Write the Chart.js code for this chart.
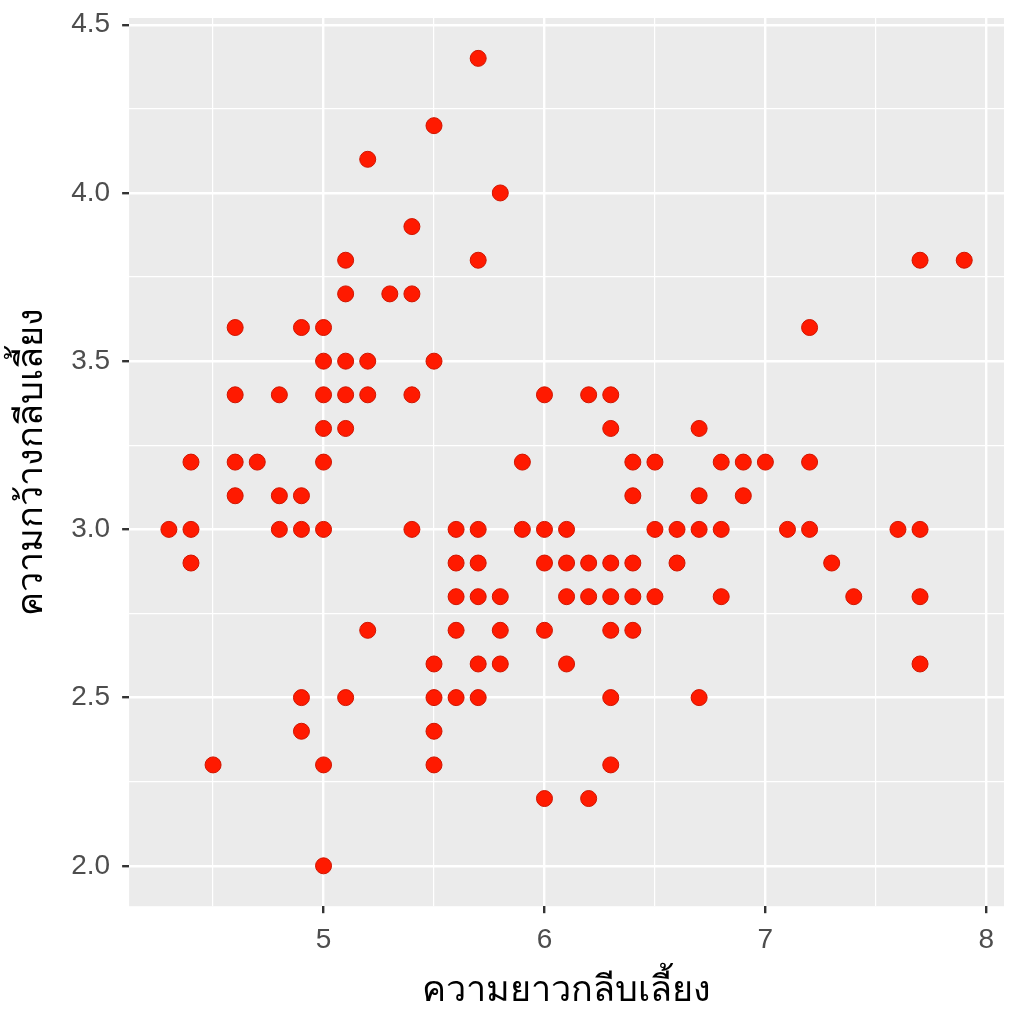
<!DOCTYPE html>
<html>
<head>
<meta charset="utf-8">
<script src="https://cdn.jsdelivr.net/npm/chart.js@4.4.0/dist/chart.umd.min.js"></script>
<style>
  html, body { margin: 0; padding: 0; background: #fff; }
  #wrap { width: 1024px; height: 1024px; }
</style>
</head>
<body>
<div id="wrap"><canvas id="chart" width="1024" height="1024"></canvas></div>
<script>
// sepal length / width pairs (one entry per visible dot)
const sepalLength = [
  5.7, 5.5, 5.2, 5.8, 5.4,
  5.1, 5.7, 7.7, 7.9,
  5.1, 5.3, 5.4,
  4.6, 4.9, 5.0, 7.2,
  5.0, 5.1, 5.2, 5.5,
  4.6, 4.8, 5.0, 5.1, 5.2, 5.4, 6.0, 6.2, 6.3,
  5.0, 5.1, 6.3, 6.7,
  4.4, 4.6, 4.7, 5.0, 5.9, 6.4, 6.5, 6.8, 6.9, 7.0, 7.2,
  4.6, 4.8, 4.9, 6.4, 6.7, 6.9,
  4.3, 4.4, 4.8, 4.9, 5.0, 5.4, 5.6, 5.7, 5.9, 6.0, 6.1, 6.5, 6.6, 6.7, 6.8, 7.1, 7.2, 7.6, 7.7,
  4.4, 5.6, 5.7, 6.0, 6.1, 6.2, 6.3, 6.4, 6.6, 7.3,
  5.6, 5.7, 5.8, 6.1, 6.2, 6.3, 6.4, 6.5, 6.8, 7.4, 7.7,
  5.2, 5.6, 5.8, 6.0, 6.3, 6.4,
  5.5, 5.7, 5.8, 6.1, 7.7,
  4.9, 5.1, 5.5, 5.6, 5.7, 6.3, 6.7,
  4.9, 5.5,
  4.5, 5.0, 5.5, 6.3,
  6.0, 6.2,
  5.0
];
const sepalWidth = [
  4.4, 4.2, 4.1, 4.0, 3.9,
  3.8, 3.8, 3.8, 3.8,
  3.7, 3.7, 3.7,
  3.6, 3.6, 3.6, 3.6,
  3.5, 3.5, 3.5, 3.5,
  3.4, 3.4, 3.4, 3.4, 3.4, 3.4, 3.4, 3.4, 3.4,
  3.3, 3.3, 3.3, 3.3,
  3.2, 3.2, 3.2, 3.2, 3.2, 3.2, 3.2, 3.2, 3.2, 3.2, 3.2,
  3.1, 3.1, 3.1, 3.1, 3.1, 3.1,
  3.0, 3.0, 3.0, 3.0, 3.0, 3.0, 3.0, 3.0, 3.0, 3.0, 3.0, 3.0, 3.0, 3.0, 3.0, 3.0, 3.0, 3.0, 3.0,
  2.9, 2.9, 2.9, 2.9, 2.9, 2.9, 2.9, 2.9, 2.9, 2.9,
  2.8, 2.8, 2.8, 2.8, 2.8, 2.8, 2.8, 2.8, 2.8, 2.8, 2.8,
  2.7, 2.7, 2.7, 2.7, 2.7, 2.7,
  2.6, 2.6, 2.6, 2.6, 2.6,
  2.5, 2.5, 2.5, 2.5, 2.5, 2.5, 2.5,
  2.4, 2.4,
  2.3, 2.3, 2.3, 2.3,
  2.2, 2.2,
  2.0
];

const xTicks = [4.5, 5, 5.5, 6, 6.5, 7, 7.5, 8];
const yTicks = [2.0, 2.25, 2.5, 2.75, 3.0, 3.25, 3.5, 3.75, 4.0, 4.25, 4.5];
const xTitle = 'ความยาวกลีบเลี้ยง';
const yTitle = 'ความกว้างกลีบเลี้ยง';

const points = sepalLength.map((x, i) => ({ x: x, y: sepalWidth[i] }));

const isMajorX = v => Math.abs(v - Math.round(v)) < 1e-6;
const isMajorY = v => Math.abs(v * 2 - Math.round(v * 2)) < 1e-6;

// grey ggplot panel behind the grid
const panelBg = {
  id: 'panelBg',
  beforeDraw(chart) {
    const a = chart.chartArea;
    const ctx = chart.ctx;
    ctx.save();
    ctx.fillStyle = '#EBEBEB';
    ctx.fillRect(a.left, a.top, a.right - a.left, a.bottom - a.top);
    ctx.restore();
  }
};

const tickFont = { family: 'Liberation Sans, Arial, sans-serif', size: 28 };
const titleFont = { family: 'Noto Sans, sans-serif', size: 36 };

new Chart(document.getElementById('chart').getContext('2d'), {
  type: 'scatter',
  data: {
    datasets: [{
      data: points,
      backgroundColor: '#FF1A00',
      borderColor: '#D01500',
      borderWidth: 1,
      pointRadius: 8,
      pointHoverRadius: 8
    }]
  },
  plugins: [panelBg],
  options: {
    responsive: false,
    animation: false,
    devicePixelRatio: 1,
    layout: { padding: { left: 10, right: 20, top: 18, bottom: 12 } },
    plugins: {
      legend: { display: false },
      tooltip: { enabled: false }
    },
    scales: {
      x: {
        type: 'linear',
        min: 4.12,
        max: 8.08,
        afterBuildTicks: s => { s.ticks = xTicks.map(v => ({ value: v })); },
        border: { display: false },
        grid: {
          color: '#FFFFFF',
          lineWidth: c => isMajorX(c.tick.value) ? 2.4 : 1.2,
          tickColor: c => isMajorX(c.tick.value) ? '#333333' : 'rgba(0,0,0,0)',
          tickWidth: 2.4,
          tickLength: 7
        },
        ticks: {
          color: '#4D4D4D',
          font: tickFont,
          padding: 10,
          maxRotation: 0,
          autoSkip: false,
          callback: v => isMajorX(v) ? String(Math.round(v)) : ''
        },
        title: {
          display: true,
          text: xTitle,
          color: '#000000',
          font: titleFont,
          padding: { top: 2, bottom: 0 }
        }
      },
      y: {
        type: 'linear',
        min: 1.88,
        max: 4.52,
        afterBuildTicks: s => { s.ticks = yTicks.map(v => ({ value: v })); },
        afterFit: s => { s.paddingTop = 0; s.paddingBottom = 0; },
        border: { display: false },
        grid: {
          color: '#FFFFFF',
          lineWidth: c => isMajorY(c.tick.value) ? 2.4 : 1.2,
          tickColor: c => isMajorY(c.tick.value) ? '#333333' : 'rgba(0,0,0,0)',
          tickWidth: 2.4,
          tickLength: 7
        },
        ticks: {
          color: '#4D4D4D',
          font: tickFont,
          padding: 12,
          autoSkip: false,
          callback: v => isMajorY(v) ? v.toFixed(1) : ''
        },
        title: {
          display: true,
          text: yTitle,
          color: '#000000',
          font: titleFont,
          padding: { top: 0, bottom: 6 }
        }
      }
    }
  }
});
</script>
</body>
</html>
